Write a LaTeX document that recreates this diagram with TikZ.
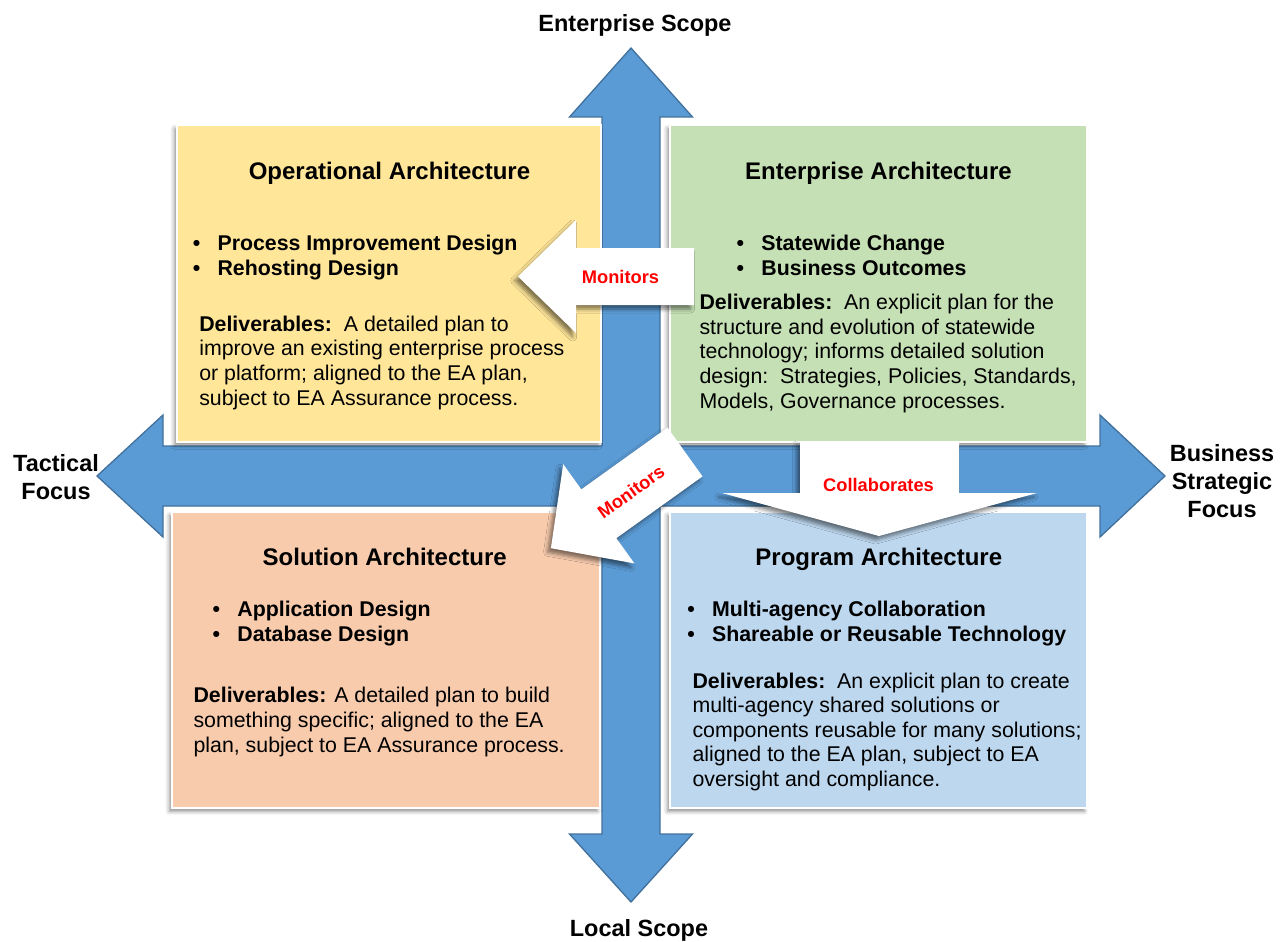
\documentclass[tikz,border=0pt]{standalone}
\usepackage{fontspec}
\setmainfont{Liberation Sans}
\usepackage{tikz}
\usetikzlibrary{shadows.blur}
\definecolor{ScopeBlue}{HTML}{5B9BD5}
\definecolor{ScopeEdge}{HTML}{41719C}
\definecolor{OpYellow}{HTML}{FFE699}
\definecolor{EntGreen}{HTML}{C5E0B4}
\definecolor{SolPeach}{HTML}{F8CBAD}
\definecolor{ProgBlue}{HTML}{BDD7EE}
\definecolor{FlowRed}{HTML}{FF0000}
\tikzset{
  quadrant/.style={draw=white, line width=1.5pt, inner sep=0pt, outer sep=0pt,
    blur shadow={shadow xshift=-2pt, shadow yshift=-2.5pt, shadow blur radius=3pt, shadow opacity=45}},
  opquad/.style={quadrant, fill=OpYellow, minimum width=318pt, minimum height=237.75pt},
  entquad/.style={quadrant, fill=EntGreen, minimum width=312.75pt, minimum height=237.75pt},
  solquad/.style={quadrant, fill=SolPeach, minimum width=321pt, minimum height=222pt},
  progquad/.style={quadrant, fill=ProgBlue, minimum width=312.75pt, minimum height=222pt},
  axisarrow/.style={fill=ScopeBlue, draw=ScopeEdge, line width=1pt, line join=miter},
  flowarrow/.style={fill=white,
    blur shadow={shadow xshift=-2.5pt, shadow yshift=-3pt, shadow blur radius=3pt, shadow opacity=50}},
  axislabel/.style={font=\fontsize{17.6}{20.8}\selectfont\bfseries, align=center, inner sep=0pt, anchor=base},
  flowlabel/.style={font=\fontsize{13.7}{16}\selectfont\bfseries, text=FlowRed, inner sep=0pt},
  boxtitle/.style={font=\fontsize{18}{21}\selectfont\bfseries, inner sep=0pt, anchor=base},
  bulletlist/.style={font=\fontsize{16}{18.75}\selectfont\bfseries, align=left, inner sep=0pt, anchor=base west},
  deliver/.style={font=\fontsize{16}{18.4}\selectfont, align=left, inner sep=0pt, anchor=base west}
}
\newcommand{\bul}{\makebox[18.6pt][l]{•}}
\newcommand{\dlv}{\textbf{Deliverables:}}

\begin{document}
\begin{tikzpicture}[x=0.75pt, y=-0.75pt]
  \useasboundingbox (0,0) rectangle (1286,942);
  % scope / focus cross
  \draw[axisarrow] (631,48) -- (692.5,117) -- (660,117) -- (660,446) -- (1100,446) -- (1100,415)
    -- (1165,476) -- (1100,537) -- (1100,506) -- (660,506) -- (660,834) -- (692.5,834)
    -- (631,902) -- (569.5,834) -- (602,834) -- (602,506) -- (163,506) -- (163,537)
    -- (97,476) -- (163,415) -- (163,446) -- (602,446) -- (602,117) -- (569.5,117) -- cycle;
  \node[axislabel] (entscope) at (635,31.7) {Enterprise Scope};
  \node[axislabel] (locscope) at (639,936) {Local Scope};
  \node[axislabel] (tactical) at (56,499) {Tactical\\Focus};
  \node[axislabel] (strategic) at (1222,517.3) {Business\\Strategic\\Focus};

  % quadrants (multi-line texts sit on their last baseline)
  \node[opquad] (oa) at (389,283.5) {};
  \node[entquad] (ea) at (878.5,283.5) {};
  \node[solquad] (sa) at (386,660) {};
  \node[progquad] (pa) at (878.5,660) {};

  \node[boxtitle] (oatitle) at (389.5,180) {Operational Architecture};
  \node[bulletlist] (oalist) at (192.5,275) {\bul Process Improvement Design\\\bul Rehosting Design};
  \node[deliver] (oadel) at (199,405) {\dlv\ \ A detailed plan to\\improve an existing enterprise process\\or platform; aligned to the EA plan,\\subject to EA Assurance process.};

  \node[boxtitle] (eatitle) at (878.5,179) {Enterprise Architecture};
  \node[bulletlist] (ealist) at (736.3,275) {\bul Statewide Change\\\bul Business Outcomes};
  \node[deliver] (eadel) at (699.3,408) {\dlv\ \ An explicit plan for the\\structure and evolution of statewide\\technology; informs detailed solution\\design:\ \ Strategies, Policies, Standards,\\Models, Governance processes.};

  \node[boxtitle] (satitle) at (384.7,565) {Solution Architecture};
  \node[bulletlist] (salist) at (212.3,641.7) {\bul Application Design\\\bul Database Design};
  \node[deliver] (sadel) at (193.3,752) {\dlv{} A detailed plan to build\\something specific; aligned to the EA\\plan, subject to EA Assurance process.};

  \node[boxtitle] (patitle) at (878.8,565) {Program Architecture};
  \node[bulletlist] (palist) at (687,641.7) {\bul Multi-agency Collaboration\\\bul Shareable or Reusable Technology};
  \node[deliver] (padel) at (692.3,786.3) {\dlv\ \ An explicit plan to create\\multi-agency shared solutions or\\components reusable for many solutions;\\aligned to the EA plan, subject to EA\\oversight and compliance.};

  % relationship arrows
  \fill[flowarrow] (694,248) -- (576,248) -- (576,220) -- (518,276.5) -- (576,333) -- (576,305) -- (694,305) -- cycle;
  \node[flowlabel, anchor=base] (mon1) at (620.5,283.3) {Monitors};

  \fill[flowarrow] (667.5,427.6) -- (702.5,476.4) -- (616.3,538.2) -- (634.4,563.4) -- (550.9,548.2)
    -- (563.2,464.2) -- (581.3,489.4) -- cycle;
  \node[flowlabel, rotate=35.6] (mon2) at (631,492) {Monitors};

  \fill[flowarrow] (800,441) -- (959,441) -- (959,493) -- (1037,493) -- (879,536) -- (722,493) -- (800,493) -- cycle;
  \node[flowlabel, anchor=base] (collab) at (878.5,491.7) {Collaborates};
\end{tikzpicture}
\end{document}
